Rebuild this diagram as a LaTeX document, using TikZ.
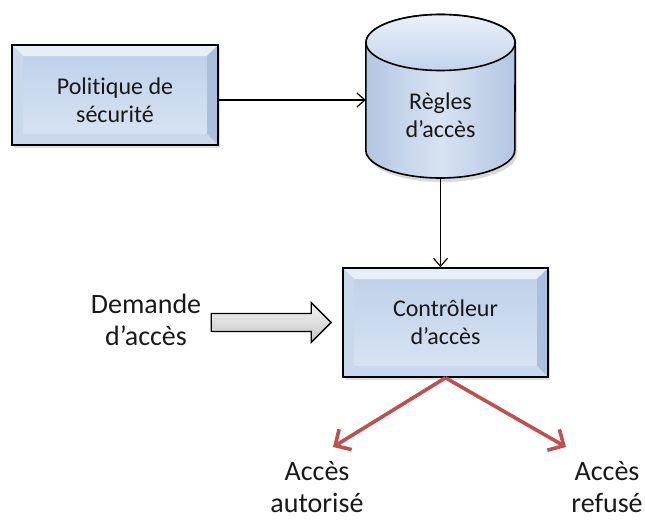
\documentclass[tikz,border=0pt]{standalone}
\usepackage{fontspec}
\setmainfont[Ligatures=NoCommon]{Carlito}
\usetikzlibrary{arrows.meta,shadows}

% face colours of the bevelled boxes
\definecolor{faceTop}{HTML}{BCCFE9}
\definecolor{faceBot}{HTML}{DAE5F3}
\definecolor{bevTop}{HTML}{E6EEF8}
\definecolor{bevLeft}{HTML}{CAD8EC}
\definecolor{bevRight}{HTML}{A9BFDD}
\definecolor{bevBot}{HTML}{C9D8EC}
% cylinder colours
\definecolor{cylSide}{HTML}{B2C6E2}
\definecolor{cylMid}{HTML}{D8E3F2}
\definecolor{capTop}{HTML}{EAF1FA}
\definecolor{capBot}{HTML}{C2D3EA}
% connectors
\definecolor{accRed}{HTML}{C0504D}
\definecolor{grayTop}{HTML}{F5F5F5}
\definecolor{grayBot}{HTML}{C4C4C4}

\begin{document}
\begin{tikzpicture}[x=1pt,y=-1pt,
  boxtext/.style={font=\fontsize{24}{28}\selectfont, align=center, text=black!90},
  outtext/.style={font=\fontsize{28}{32}\selectfont, align=center, text=black!90},
  bevelbox/.style={draw=black, line width=1.6pt, top color=faceTop, bottom color=faceBot,
    drop shadow={opacity=0.25, shadow xshift=2pt, shadow yshift=-3pt},
    path picture={
      \coordinate (pnw) at (path picture bounding box.north west);
      \coordinate (pne) at (path picture bounding box.north east);
      \coordinate (psw) at (path picture bounding box.south west);
      \coordinate (pse) at (path picture bounding box.south east);
      \fill[bevTop] (pnw) -- (pne) -- ([shift={(-11pt,-11pt)}]pne) -- ([shift={(11pt,-11pt)}]pnw) -- cycle;
      \fill[bevLeft] (pnw) -- ([shift={(11pt,-11pt)}]pnw) -- ([shift={(11pt,11pt)}]psw) -- (psw) -- cycle;
      \fill[bevRight] (pne) -- ([shift={(-11pt,-11pt)}]pne) -- ([shift={(-11pt,11pt)}]pse) -- (pse) -- cycle;
      \fill[bevBot] (psw) -- ([shift={(11pt,11pt)}]psw) -- ([shift={(-11pt,11pt)}]pse) -- (pse) -- cycle;
    }},
  thinarrow/.style={draw=black, line width=1.2pt, -{Straight Barb[length=8pt,width=14pt]}},
  redarrow/.style={draw=accRed, line width=3.6pt, -{Straight Barb[length=12pt,width=24pt]}}
]
\useasboundingbox (0,0) rectangle (645,520);

% policy box
\node[bevelbox, minimum width=206pt, minimum height=100pt] (pol) at (115,95) {};
\node[boxtext] (poltext) at (115,100) {Politique de\\sécurité};

% rule store (cylinder)
\node[minimum width=149pt, minimum height=163pt, inner sep=0pt] (db) at (440.5,96.5) {};
\fill[black, opacity=0.15] (368,46) -- (368,154)
  arc[start angle=180, end angle=360, x radius=74.5pt, y radius=28pt] -- (517,46) -- cycle;
\path[left color=cylSide, right color=cylSide, middle color=cylMid, draw=black, line width=1.6pt]
  (db.west |- 0,42.5) -- (db.west |- 0,150)
  arc[start angle=180, end angle=360, x radius=74.5pt, y radius=28pt]
  -- (db.east |- 0,42.5)
  arc[start angle=0, end angle=180, x radius=74.5pt, y radius=28pt] -- cycle;
\path[top color=capTop, bottom color=capBot, draw=black, line width=1.6pt]
  (db.center |- 0,42.5) ellipse[x radius=74.5pt, y radius=28pt];
\node[boxtext] (dbtext) at (440.5,115) {Règles\\d'accès};

% controller box
\node[bevelbox, minimum width=205pt, minimum height=109pt] (ctrl) at (445.5,322.5) {};
\node[boxtext] (ctrltext) at (445.5,322) {Contrôleur\\d'accès};

% request
\node[outtext] (req) at (146,320) {Demande\\d'accès};
\path[top color=grayTop, bottom color=grayBot, draw=black, line width=1.4pt]
  ([xshift=-131pt,yshift=9pt]ctrl.west) -- ([xshift=-31pt,yshift=9pt]ctrl.west)
  -- ([xshift=-31pt,yshift=20pt]ctrl.west) -- ([xshift=-11pt]ctrl.west)
  -- ([xshift=-31pt,yshift=-20pt]ctrl.west) -- ([xshift=-31pt,yshift=-9pt]ctrl.west)
  -- ([xshift=-131pt,yshift=-9pt]ctrl.west) -- cycle;

% outcomes
\node[outtext, inner sep=1pt] (ok) at (317,487) {Accès\\autorisé};
\node[outtext, inner sep=1pt] (no) at (607,487) {Accès\\refusé};
\coordinate (okTip) at (333,447);
\coordinate (noTip) at (566,447);

% connectors
\draw[thinarrow] ([yshift=-5pt]pol.east) -- ([yshift=-5pt]pol.east -| db.west);
\draw[thinarrow] (db.south) -- (db.south |- ctrl.north);
\draw[redarrow] (ctrl.south) -- (okTip);
\draw[redarrow] (ctrl.south) -- (noTip);
\end{tikzpicture}
\end{document}
